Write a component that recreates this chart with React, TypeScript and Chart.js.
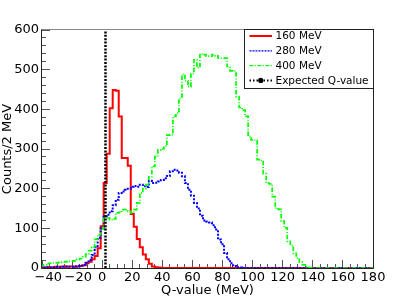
import React, { useEffect, useRef } from "react";
import { Chart, registerables } from "chart.js";

Chart.register(...registerables);

const FONT = "'DejaVu Sans', sans-serif";

// Histogram binning: 2 MeV bins, first bin centred at -40 MeV
const BIN_WIDTH = 2;
const FIRST_BIN_CENTER = -40;

// Counts per 2 MeV bin (bin centres -40, -38, ..., 180)
const COUNTS_160 = [
  0, 1, 2, 1, 2, 3, 3, 4, 3, 4,
  4, 3, 4, 5, 7, 12, 16, 22, 30, 50,
  105, 214, 288, 403, 449, 447, 382, 277, 277, 258,
  136, 104, 73, 52, 34, 22, 11, 4, 2, 1,
  0, 0, 0, 0, 0, 0, 0, 0, 0, 0,
  0, 0, 0, 0, 0, 0, 0, 0, 0, 0,
  0, 0, 0, 0, 0, 0, 0, 0, 0, 0,
  0, 0, 0, 0, 0, 0, 0, 0, 0, 0,
  0, 0, 0, 0, 0, 0, 0, 0, 0, 0,
  0, 0, 0, 0, 0, 0, 0, 0, 0, 0,
  0, 0, 0, 0, 0, 0, 0, 0, 0, 0,
  0,
];

const COUNTS_280 = [
  2, 1, 2, 1, 2, 3, 2, 3, 4, 3,
  3, 4, 5, 6, 8, 13, 20, 33, 52, 76,
  100, 130, 134, 143, 158, 172, 189, 193, 197, 200,
  205, 207, 205, 210, 206, 204, 220, 214, 215, 218,
  222, 226, 232, 244, 248, 246, 240, 231, 214, 197,
  182, 164, 150, 132, 120, 117, 115, 108, 97, 72,
  60, 38, 22, 12, 5, 2, 1, 0, 0, 0,
  0, 0, 0, 0, 0, 0, 0, 0, 0, 0,
  0, 0, 0, 0, 0, 0, 0, 0, 0, 0,
  0, 0, 0, 0, 0, 0, 0, 0, 0, 0,
  0, 0, 0, 0, 0, 0, 0, 0, 0, 0,
  0,
];

const COUNTS_400 = [
  6, 8, 11, 12, 13, 13, 14, 15, 16, 17,
  17, 18, 21, 24, 28, 35, 44, 52, 72, 84,
  98, 128, 126, 122, 124, 139, 140, 147, 147, 143,
  139, 147, 164, 189, 200, 210, 230, 256, 281, 298,
  300, 307, 335, 336, 382, 390, 428, 488, 472, 457,
  490, 525, 505, 540, 538, 534, 534, 538, 535, 529,
  529, 529, 508, 497, 496, 432, 405, 398, 382, 332,
  323, 322, 273, 271, 238, 214, 212, 180, 151, 148,
  118, 101, 67, 57, 37, 25, 15, 8, 3, 1,
  0, 0, 0, 0, 0, 0, 0, 0, 0, 0,
  0, 0, 0, 0, 0, 0, 0, 0, 0, 0,
  0,
];

const EXPECTED_Q = [2.2];

const SERIES_LABELS = ["160 MeV", "280 MeV", "400 MeV", "Expected Q-value"];
const SERIES_COLORS = ["#ff0000", "#0000ff", "#00ff00", "#000000"];

const X_MIN = -40;
const X_MAX = 180;
const X_MAJOR = 20;
const X_MINOR = 5;
const Y_MIN = 0;
const Y_MAX = 600;
const Y_MAJOR = 100;
const Y_MINOR = 20;
const X_TITLE = "Q-value (MeV)";
const Y_TITLE = "Counts/2 MeV";

function histPoints(counts: number[]) {
  const lo = FIRST_BIN_CENTER - BIN_WIDTH / 2;
  const pts = counts.map((c, i) => ({ x: lo + i * BIN_WIDTH, y: c }));
  pts.push({ x: lo + counts.length * BIN_WIDTH, y: counts[counts.length - 1] });
  return pts;
}

const axesPlugin = {
  id: "rootAxes",
  beforeDatasetsDraw(chart: any) {
    const { ctx, chartArea: a, scales } = chart;
    const xs = scales.x;
    const ys = scales.y;
    ctx.save();
    // tick marks drawn inside the frame
    ctx.strokeStyle = "#555";
    ctx.lineWidth = 1;
    ctx.beginPath();
    for (let v = X_MIN; v <= X_MAX; v += X_MINOR) {
      const px = Math.floor(xs.getPixelForValue(v)) + 0.5;
      const len = v % X_MAJOR === 0 ? 8 : 4;
      ctx.moveTo(px, a.bottom);
      ctx.lineTo(px, a.bottom - len);
    }
    for (let v = Y_MIN; v <= Y_MAX; v += Y_MINOR) {
      const py = Math.floor(ys.getPixelForValue(v)) + 0.5;
      const len = v % Y_MAJOR === 0 ? 8 : 4;
      ctx.moveTo(a.left, py);
      ctx.lineTo(a.left + len, py);
    }
    ctx.stroke();
    // frame
    ctx.strokeStyle = "#888";
    ctx.beginPath();
    ctx.moveTo(a.left - 0.5, a.top - 0.5);
    ctx.lineTo(a.right + 0.5, a.top - 0.5);
    ctx.stroke();
    ctx.strokeStyle = "#222";
    ctx.beginPath();
    ctx.moveTo(a.right + 0.5, a.top - 0.5);
    ctx.lineTo(a.right + 0.5, a.bottom + 0.5);
    ctx.lineTo(a.left - 0.5, a.bottom + 0.5);
    ctx.lineTo(a.left - 0.5, a.top - 0.5);
    ctx.stroke();
    ctx.restore();
  },
};

const legendPlugin = {
  id: "rootLegend",
  afterDatasetsDraw(chart: any) {
    const { ctx, chartArea: a } = chart;
    const w = 129;
    const h = 59;
    const left = a.right + 0.5 - w;
    const top = a.top - 0.5;
    ctx.save();
    ctx.fillStyle = "#fff";
    ctx.fillRect(left, top, w, h);
    ctx.strokeStyle = "#222";
    ctx.lineWidth = 1;
    ctx.strokeRect(left, top, w, h);
    const ds = chart.data.datasets;
    ds.forEach((d: any, i: number) => {
      const cy = top + 6.5 + i * 14.8;
      const x0 = left + 5;
      const x1 = left + 27.5;
      ctx.save();
      ctx.strokeStyle = d.borderColor;
      ctx.lineWidth = d.legendWidth;
      ctx.setLineDash(d.legendDash || []);
      ctx.beginPath();
      ctx.moveTo(x0, cy);
      ctx.lineTo(x1, cy);
      ctx.stroke();
      if (d.legendMarker) {
        ctx.setLineDash([]);
        ctx.fillStyle = d.borderColor;
        ctx.beginPath();
        ctx.arc((x0 + x1) / 2, cy, 2.6, 0, Math.PI * 2);
        ctx.fill();
      }
      ctx.restore();
      ctx.fillStyle = "#000";
      ctx.font = `10.5px ${FONT}`;
      ctx.textBaseline = "middle";
      ctx.textAlign = "left";
      ctx.fillText(d.label, left + 31, cy + 0.5);
    });
    ctx.restore();
  },
};

function formatX(v: number) {
  if (v < 0) return "\u2007 \u2212" + Math.abs(v);
  return String(v);
}

export default function App() {
  const ref = useRef<HTMLCanvasElement | null>(null);
  useEffect(() => {
    if (!ref.current) return;
    const histBase = {
      pointRadius: 0,
      stepped: true,
      tension: 0,
      fill: false,
      borderCapStyle: "butt",
      borderJoinStyle: "miter",
    };
    const chart = new Chart(ref.current, {
      type: "line",
      data: {
        datasets: [
          {
            ...histBase,
            label: SERIES_LABELS[0],
            data: histPoints(COUNTS_160),
            borderColor: SERIES_COLORS[0],
            borderWidth: 2,
            order: 3,
            legendWidth: 2,
            legendDash: [],
          },
          {
            ...histBase,
            label: SERIES_LABELS[1],
            data: histPoints(COUNTS_280),
            borderColor: SERIES_COLORS[1],
            borderWidth: 2,
            borderDash: [2, 1.5],
            order: 2,
            legendWidth: 1.2,
            legendDash: [2, 1],
          },
          {
            ...histBase,
            label: SERIES_LABELS[2],
            data: histPoints(COUNTS_400),
            borderColor: SERIES_COLORS[2],
            borderWidth: 1.7,
            borderDash: [4.5, 1.7, 1, 1.7],
            order: 1,
            legendWidth: 1.3,
            legendDash: [4, 1.5, 1, 1.5],
          },
          {
            label: SERIES_LABELS[3],
            data: [
              { x: EXPECTED_Q[0], y: Y_MIN },
              { x: EXPECTED_Q[0], y: Y_MAX },
            ],
            borderColor: SERIES_COLORS[3],
            borderWidth: 2.5,
            borderDash: [2, 1.4],
            pointRadius: 0,
            fill: false,
            order: 0,
            legendWidth: 2,
            legendDash: [1.5, 2],
            legendMarker: true,
          },
        ] as any,
      },
      options: {
        animation: false,
        responsive: false,
        devicePixelRatio: 1,
        layout: { padding: { top: 30, right: 42, bottom: 0, left: 0 } },
        plugins: {
          legend: { display: false },
          tooltip: { enabled: false },
        },
        scales: {
          x: {
            type: "linear",
            min: X_MIN,
            max: X_MAX,
            grid: { display: false, drawTicks: false },
            border: { display: false },
            ticks: {
              stepSize: X_MAJOR,
              padding: 2,
              color: "#000",
              font: { family: FONT, size: 13 },
              maxRotation: 0,
              autoSkip: false,
              callback: (v: any) => formatX(Number(v)),
            },
            title: {
              display: true,
              text: X_TITLE,
              color: "#000",
              font: { family: FONT, size: 13 },
              padding: { top: 0, bottom: 1 },
            },
            afterFit: (s: any) => {
              s.height = 31;
            },
          },
          y: {
            type: "linear",
            min: Y_MIN,
            max: Y_MAX,
            grid: { display: false, drawTicks: false },
            border: { display: false },
            ticks: {
              stepSize: Y_MAJOR,
              padding: 3,
              color: "#000",
              font: { family: FONT, size: 13 },
            },
            title: {
              display: true,
              text: Y_TITLE,
              color: "#000",
              font: { family: FONT, size: 13 },
              padding: { top: 0, bottom: 0 },
            },
            afterFit: (s: any) => {
              s.width = 42;
            },
          },
        },
      } as any,
      plugins: [axesPlugin, legendPlugin],
    });
    return () => chart.destroy();
  }, []);
  return (
    <div
      style={{
        position: "fixed",
        left: 0,
        top: 0,
        width: 415,
        height: 299,
        background: "#fff",
      }}
    >
      <canvas ref={ref} width={415} height={299} style={{ display: "block" }} />
    </div>
  );
}
